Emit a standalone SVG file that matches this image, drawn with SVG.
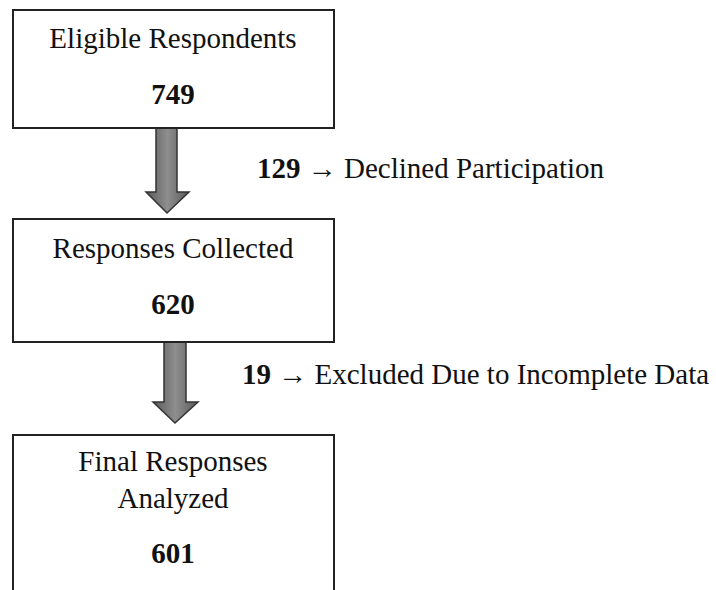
<svg xmlns="http://www.w3.org/2000/svg" width="716" height="590" viewBox="0 0 716 590">
<defs>
<linearGradient id="g" x1="0" y1="0" x2="1" y2="0">
<stop offset="0" stop-color="#5a5a5a"/>
<stop offset="0.5" stop-color="#8e8e8e"/>
<stop offset="1" stop-color="#5a5a5a"/>
</linearGradient>
<style>
.box{fill:#fff;stroke:#222;stroke-width:2}
.t{font-family:"Liberation Serif","Times New Roman",serif;font-size:29px;fill:#111;text-anchor:middle}
.b{font-weight:bold}
.s{font-family:"Liberation Serif","Times New Roman",serif;font-size:29px;fill:#111}
.arr{fill:url(#g);stroke:#333;stroke-width:1.5;stroke-linejoin:miter}
</style>
</defs>
<rect width="716" height="590" fill="#fff"/>
<g id="connectors">
<path class="arr" d="M156,128 L177,128 L177,192 L189,192 L167,213 L146,192 L156,192 Z"/>
<path class="arr" d="M164,342 L186,342 L186,402 L198,402 L175,423 L153,402 L164,402 Z"/>
<text class="s" x="257" y="178"><tspan font-weight="bold">129</tspan> → Declined Participation</text>
<text class="s" x="242" y="384"><tspan font-weight="bold">19</tspan> → Excluded Due to Incomplete Data</text>
</g>
<g id="n1">
<rect class="box" x="13" y="10" width="321" height="118"/>
<text class="t" x="173" y="48">Eligible Respondents</text>
<text class="t b" x="173" y="104">749</text>
</g>
<g id="n2">
<rect class="box" x="13" y="219" width="321" height="123"/>
<text class="t" x="173" y="258">Responses Collected</text>
<text class="t b" x="173" y="314">620</text>
</g>
<g id="n3">
<rect class="box" x="13" y="435" width="321" height="170"/>
<text class="t" x="173" y="471">Final Responses</text>
<text class="t" x="173" y="508">Analyzed</text>
<text class="t b" x="173" y="563">601</text>
</g>
</svg>
